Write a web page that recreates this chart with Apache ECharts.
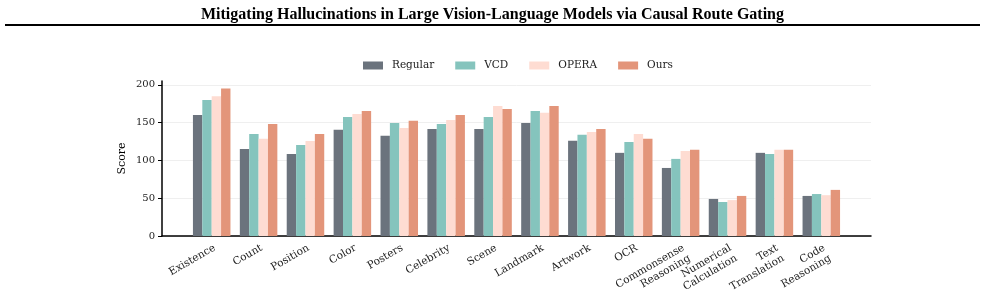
<!DOCTYPE html>
<html>
<head>
<meta charset="utf-8">
<script src="https://cdn.jsdelivr.net/npm/echarts@6/dist/echarts.min.js"></script>
<style>
  html, body { margin: 0; padding: 0; background: #fff; }
  #chart { width: 985px; height: 303px; }
</style>
</head>
<body>
<div id="chart"></div>
<script>
// task categories on the x axis
const categories = ['Existence', 'Count', 'Position', 'Color', 'Posters', 'Celebrity', 'Scene',
  'Landmark', 'Artwork', 'OCR', 'Commonsense\nReasoning', 'Numerical\nCalculation',
  'Text\nTranslation', 'Code\nReasoning'];
const seriesNames = ['Regular', 'VCD', 'OPERA', 'Ours'];
const regular = [160, 115, 108.5, 140.5, 132.5, 141.5, 141.5, 149.5, 126, 110, 90, 49, 110, 53];
const vcd = [180, 135, 120.5, 157.5, 149.5, 148, 157.5, 165.5, 134, 124.5, 102, 45, 108.5, 55.5];
const opera = [185, 128.5, 125.5, 161.5, 143, 153.5, 172, 163, 137.5, 135, 112.5, 47.5, 114, 54];
const ours = [195, 148, 135, 165.5, 152.5, 160, 168, 172, 141.5, 128.5, 114, 53, 114, 61];
const yTicks = [0, 50, 100, 150, 200];

const colors = ['#6b737d', '#85c4bd', '#fedcd2', '#e3957a'];
const serif = 'DejaVu Serif';

let chart = echarts.init(document.getElementById('chart'));

let seriesList = [regular, vcd, opera, ours].map((vals, i) => ({
    name: seriesNames[i],
    type: 'bar',
    xAxisIndex: 2,
    yAxisIndex: 2,
    data: vals,
    barGap: '0%',
    barCategoryGap: '20%',
    itemStyle: { color: colors[i] },
    emphasis: { disabled: true }
}));

chart.setOption({
    animation: false,
    title: {
        text: 'Mitigating Hallucinations in Large Vision-Language Models via Causal Route Gating',
        left: 'center',
        top: 2,
        textStyle: { fontFamily: 'Liberation Serif', fontWeight: 'bold', fontSize: 16, color: '#000' }
    },
    graphic: [{
        type: 'line',
        shape: { x1: 5, y1: 25, x2: 980, y2: 25 },
        style: { stroke: '#000', lineWidth: 2 }
    }],
    legend: {
        data: seriesNames,
        top: 55,
        left: 358,
        itemWidth: 20,
        itemHeight: 8,
        itemGap: 21,
        icon: 'rect',
        textStyle: { fontFamily: serif, fontSize: 10.5, color: '#222', padding: [0, 0, 0, 4] }
    },
    grid: [
        // frame: axis lines
        { left: 162, right: 114, top: 81, bottom: 67 },
        // y ticks, labels, gridlines
        { left: 162, right: 114, top: 84.8, bottom: 67 },
        // bars
        { left: 188.25, right: 140.25, top: 84.8, bottom: 67 }
    ],
    xAxis: [
        {
            gridIndex: 0, type: 'value', min: 0, max: 1,
            axisLine: { show: true, lineStyle: { color: '#000', width: 1.5 } },
            axisTick: { show: false }, axisLabel: { show: false }, splitLine: { show: false }
        },
        { gridIndex: 1, type: 'value', min: 0, max: 1, show: false },
        {
            gridIndex: 2, type: 'category', data: categories,
            axisLine: { show: false },
            axisTick: { alignWithLabel: true, length: 4, lineStyle: { color: '#000', width: 1 } },
            axisLabel: {
                interval: 0, rotate: 30, margin: 6, verticalAlign: 'top',
                fontFamily: serif, fontSize: 10.5, color: '#222', lineHeight: 12
            }
        }
    ],
    yAxis: [
        {
            gridIndex: 0, type: 'value', min: 0, max: 205,
            name: 'Score', nameLocation: 'middle', nameGap: 34,
            nameTextStyle: { fontFamily: serif, fontSize: 11, color: '#000' },
            axisLine: { show: true, lineStyle: { color: '#000', width: 1.5 } },
            axisTick: { show: false }, axisLabel: { show: false }, splitLine: { show: false }
        },
        {
            gridIndex: 1, type: 'value', min: 0, max: 200, interval: 50,
            axisLine: { show: false },
            axisTick: { show: true, length: 4, lineStyle: { color: '#000' } },
            axisLabel: { margin: 7, fontFamily: serif, fontSize: 10, color: '#222',
                customValues: yTicks },
            splitLine: { show: true, lineStyle: { color: '#efefef', width: 1 } }
        },
        { gridIndex: 2, type: 'value', min: 0, max: 200, show: false }
    ],
    series: seriesList
});
</script>
</body>
</html>
